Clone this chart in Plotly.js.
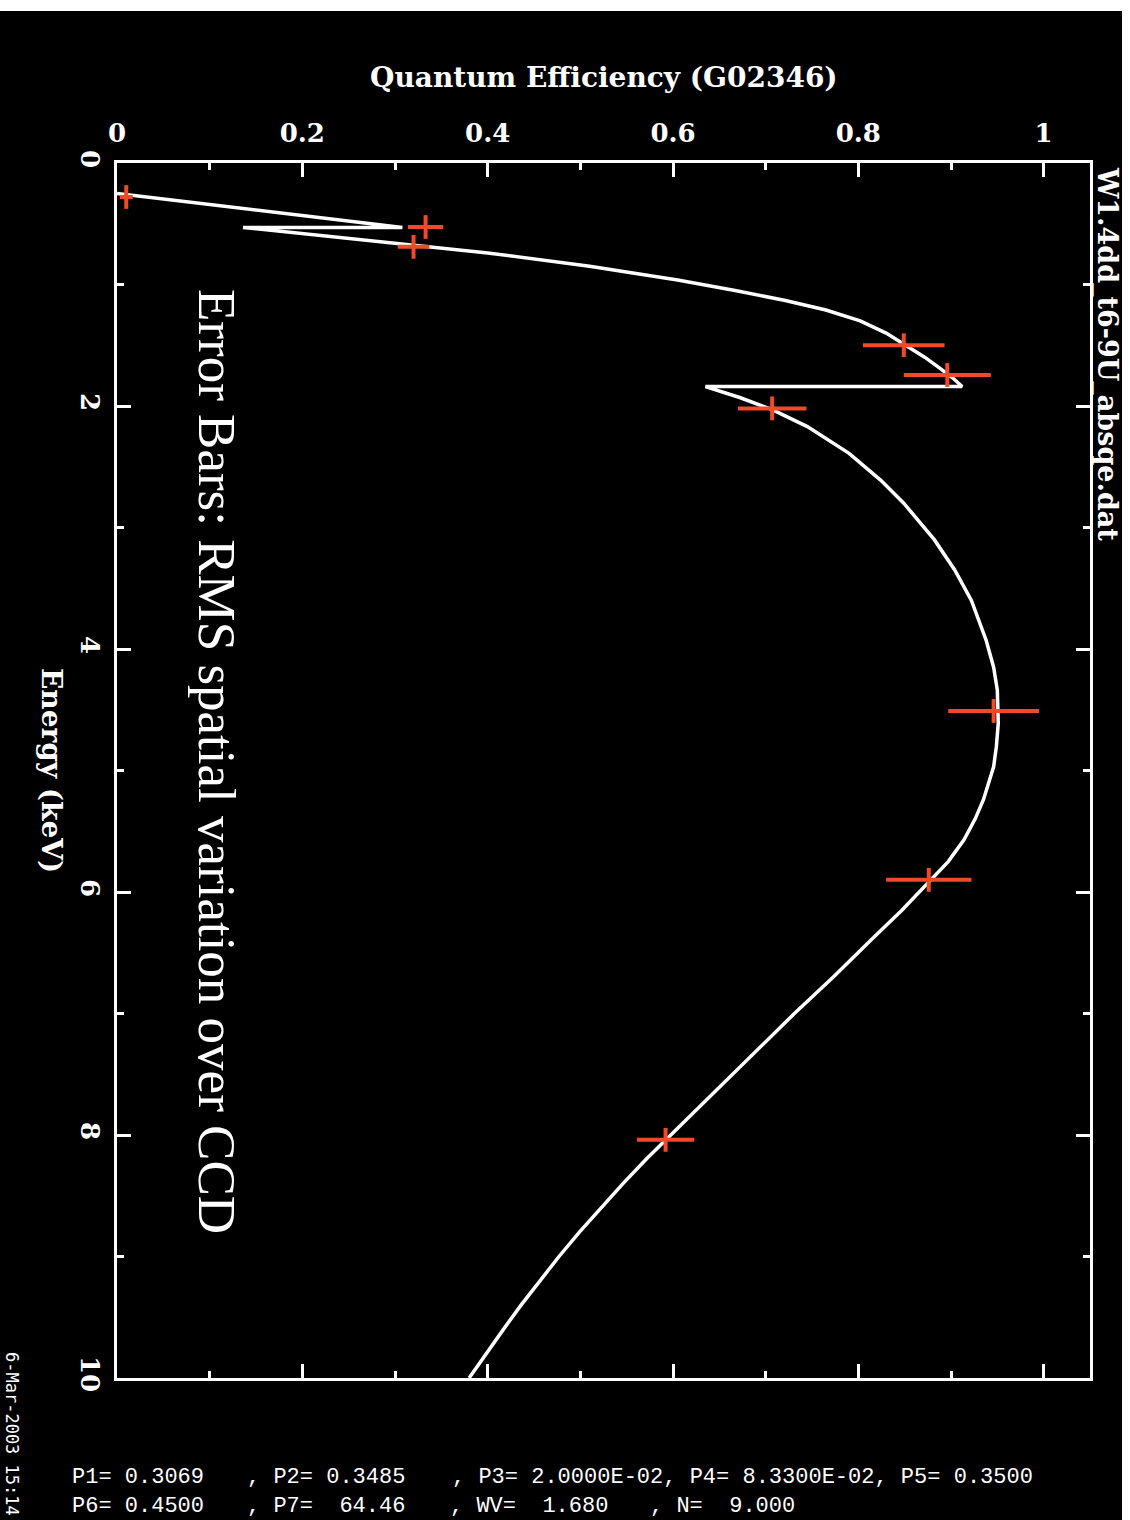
<!DOCTYPE html>
<html>
<head>
<meta charset="utf-8">
<script src="https://cdn.plot.ly/plotly-3.0.1.min.js"></script>
<style>
  html, body { margin: 0; padding: 0; background: #ffffff; width: 1130px; height: 1520px; overflow: hidden; }
  #chart { position: absolute; left: 0; top: 11px; width: 1122px; height: 1509px; background: #000; }
</style>
</head>
<body>
<div id="chart"></div>
<script>
// Model QE curve: energy (keV) and quantum efficiency
const curveEnergy = [0.25, 0.53, 0.53, 0.60, 0.675, 0.74, 0.85, 0.963, 1.05, 1.13, 1.21, 1.30, 1.40, 1.50, 1.60, 1.70, 1.77, 1.84,
                     1.84, 1.93, 2.03, 2.17, 2.39, 2.61, 2.80, 3.10, 3.35, 3.60, 3.93, 4.15, 4.34, 4.61, 4.80, 4.97,
                     5.24, 5.40, 5.57, 5.75, 5.93, 6.15, 6.37, 6.70, 7.00, 7.55, 8.04, 8.20, 8.40, 8.60, 8.80, 9.00,
                     9.20, 9.40, 9.60, 9.80, 10.0];
const curveQE     = [0.000, 0.308, 0.136, 0.224, 0.318, 0.400, 0.510, 0.605, 0.667, 0.720, 0.765, 0.802, 0.830, 0.851, 0.872, 0.890, 0.902, 0.912,
                     0.635, 0.672, 0.707, 0.745, 0.790, 0.824, 0.849, 0.882, 0.904, 0.922, 0.938, 0.946, 0.950, 0.951, 0.949, 0.946,
                     0.935, 0.926, 0.914, 0.897, 0.875, 0.847, 0.817, 0.773, 0.731, 0.658, 0.592, 0.571, 0.546, 0.522, 0.499, 0.477,
                     0.456, 0.436, 0.417, 0.398, 0.380];

// Measured points with RMS spatial variation
const measEnergy = [0.28, 0.527, 0.69, 1.50, 1.745, 2.02, 4.51, 5.90, 8.04];
const measQE     = [0.010, 0.333, 0.320, 0.849, 0.896, 0.707, 0.946, 0.876, 0.592];
const measRMS    = [0.007, 0.019, 0.017, 0.044, 0.047, 0.037, 0.049, 0.046, 0.031];

// Axis tick settings
const qeTickStep = 0.2;
const energyTickStep = 2;

// Fit parameter read-out lines
const paramLine1 = ["P1= 0.3069", ", P2= 0.3485", ", P3= 2.0000E-02, P4= 8.3300E-02, P5= 0.3500"];
const paramLine2 = ["P6= 0.4500", ", P7=  64.46", ", WV=  1.680", ", N=  9.000"];
const paramLine1X = [70, 245, 450];
const paramLine2X = [70, 245, 448, 648];

const titleText = "Quantum Efficiency (G02346)";
const energyTitle = "Energy (keV)";
const noteText = "Error Bars: RMS spatial variation over CCD";
const fileText = "W1.4dd_t6-9U_absqe.dat";
const dateText = "6-Mar-2003 15:14";

// plot-area pixel frame (page coordinates)
const PL = 117, PR = 1090, PT = 163, PB = 1378;
const px = v => (v - PL) / (PR - PL);
const py = v => (PB - v) / (PB - PT);

const white = '#ffffff';
const red = '#f04a28';
const boldSerif = (size) => ({family: 'DejaVu Serif', size: size, color: white, weight: 'bold'});
const paramFont = {family: 'Liberation Mono', size: 22, color: white};

const traces = [
  {
    x: curveQE, y: curveEnergy, type: 'scatter', mode: 'lines',
    line: {color: white, width: 3.5}, hoverinfo: 'skip'
  },
  {
    x: measQE, y: measEnergy, type: 'scatter', mode: 'markers',
    marker: {symbol: 'line-ns', size: 17, color: red, line: {color: red, width: 4}},
    error_x: {type: 'data', array: measRMS, visible: true, color: red, thickness: 4, width: 0}
  }
];

const annotations = [
  {text: titleText, xref: 'paper', yref: 'paper', x: px(604), y: py(78), xanchor: 'center', yanchor: 'middle', showarrow: false, font: boldSerif(28)},
  {text: energyTitle, xref: 'paper', yref: 'paper', x: px(52), y: py(770), xanchor: 'center', yanchor: 'middle', textangle: 90, showarrow: false, font: boldSerif(28)},
  {text: noteText, xref: 'paper', yref: 'paper', x: px(217), y: py(761), xanchor: 'center', yanchor: 'middle', textangle: 90, showarrow: false, font: {family: 'Liberation Serif', size: 53, color: white}},
  {text: fileText, xref: 'paper', yref: 'paper', x: px(1107), y: py(165), xanchor: 'center', yanchor: 'top', textangle: 90, showarrow: false, font: boldSerif(27)},
  {text: dateText, xref: 'paper', yref: 'paper', x: px(12), y: py(1350), xanchor: 'center', yanchor: 'top', textangle: 90, showarrow: false, font: {family: 'DejaVu Sans Mono', size: 17, color: white}}
];
paramLine1.forEach((t, i) => annotations.push({text: t, xref: 'paper', yref: 'paper', x: px(paramLine1X[i]), y: py(1477), xanchor: 'left', yanchor: 'middle', showarrow: false, font: paramFont}));
paramLine2.forEach((t, i) => annotations.push({text: t, xref: 'paper', yref: 'paper', x: px(paramLine2X[i]), y: py(1506), xanchor: 'left', yanchor: 'middle', showarrow: false, font: paramFont}));

const layout = {
  width: 1122, height: 1509,
  paper_bgcolor: '#000000', plot_bgcolor: '#000000',
  showlegend: false,
  margin: {l: PL, r: 1122 - PR, t: PT - 11, b: 1520 - PB, pad: 0},
  xaxis: {
    side: 'top', range: [0, 1.05], tick0: 0, dtick: qeTickStep,
    showgrid: false, zeroline: false,
    showline: true, linecolor: white, linewidth: 3, mirror: 'ticks',
    ticks: 'inside', ticklen: 14, tickwidth: 3, tickcolor: white,
    minor: {dtick: qeTickStep / 2, ticks: 'inside', ticklen: 7, tickwidth: 3, tickcolor: white},
    tickfont: boldSerif(26), ticklabelstandoff: 8
  },
  yaxis: {
    range: [10, 0], tick0: 0, dtick: energyTickStep,
    showgrid: false, zeroline: false,
    showline: true, linecolor: white, linewidth: 3, mirror: 'ticks',
    ticks: 'inside', ticklen: 14, tickwidth: 3, tickcolor: white,
    minor: {dtick: energyTickStep / 2, ticks: 'inside', ticklen: 7, tickwidth: 3, tickcolor: white},
    tickfont: boldSerif(26), tickangle: 90, ticklabelstandoff: 2
  },
  annotations: annotations
};

Plotly.newPlot('chart', traces, layout, {displayModeBar: false, staticPlot: true});
</script>
</body>
</html>
